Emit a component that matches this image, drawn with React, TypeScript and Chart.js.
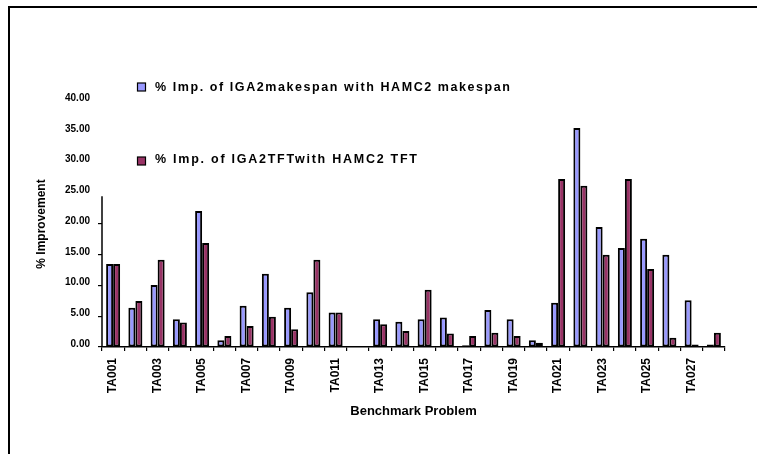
import React, { useEffect, useRef } from "react";
import { Chart, registerables } from "chart.js";

Chart.register(...registerables);

const categories = [
  "TA001", "TA002", "TA003", "TA004", "TA005", "TA006", "TA007", "TA008", "TA009", "TA010",
  "TA011", "TA012", "TA013", "TA014", "TA015", "TA016", "TA017", "TA018", "TA019", "TA020",
  "TA021", "TA022", "TA023", "TA024", "TA025", "TA026", "TA027", "TA028",
];

const makespanImp = [
  13.5, 6.4, 10.1, 4.5, 22.1, 1.1, 6.7, 11.9, 6.4, 8.9,
  5.6, 0, 4.5, 4.1, 4.5, 4.8, 0.3, 6.0, 4.5, 1.1,
  7.2, 35.6, 19.5, 16.1, 17.6, 15.0, 7.6, 0.4,
];

const tftImp = [
  13.5, 7.5, 14.2, 4.0, 16.9, 1.8, 3.4, 4.9, 2.9, 14.2,
  5.6, 0, 3.7, 2.6, 9.3, 2.2, 1.8, 2.3, 1.8, 0.7,
  27.3, 26.2, 15.0, 27.3, 12.7, 1.5, 0.4, 2.3,
];

const seriesLabels = [
  "% Imp. of IGA2makespan with HAMC2 makespan",
  "% Imp. of IGA2TFTwith HAMC2 TFT",
];
const seriesColors = ["#9999FF", "#993366"];

const Y_MIN = 0;
const Y_MAX = 40;
const Y_STEP = 5;
const Y_AXIS_LINE_TOP = 24.5;
const Y_TICK_MARK_MAX = 20;

const FONT = "'Liberation Sans', Arial, sans-serif";

const overlayPlugin = {
  id: "overlay",
  afterDraw(chart: any) {
    const { ctx, chartArea, scales } = chart;
    const y = scales.y;
    ctx.save();
    // partial y axis line
    ctx.strokeStyle = "#000";
    ctx.lineWidth = 1.5;
    ctx.beginPath();
    ctx.moveTo(chartArea.left, y.getPixelForValue(0));
    ctx.lineTo(chartArea.left, y.getPixelForValue(Y_AXIS_LINE_TOP));
    ctx.stroke();

    // legend
    const items = [
      { sq: 83, ty: 87.5, w: 355 },
      { sq: 157, ty: 160, w: 262 },
    ];
    items.forEach((it, i) => {
      ctx.fillStyle = seriesColors[i];
      ctx.fillRect(137.5, it.sq, 8, 8);
      ctx.strokeStyle = "#000";
      ctx.lineWidth = 1.2;
      ctx.strokeRect(137.5, it.sq, 8, 8);
      ctx.fillStyle = "#000";
      ctx.font = `bold 12.5px ${FONT}`;
      ctx.textBaseline = "middle";
      ctx.textAlign = "left";
      const text = seriesLabels[i];
      (ctx as any).letterSpacing = "0px";
      const w = ctx.measureText(text).width;
      const sp = Math.max(0, (it.w - w) / (text.length - 1));
      (ctx as any).letterSpacing = `${sp}px`;
      ctx.fillText(text, 155, it.ty);
      (ctx as any).letterSpacing = "0px";
    });
    ctx.restore();
  },
};

export default function App() {
  const canvasRef = useRef<HTMLCanvasElement | null>(null);

  useEffect(() => {
    if (!canvasRef.current) return;
    const chart = new Chart(canvasRef.current, {
      type: "bar",
      data: {
        labels: categories,
        datasets: [
          {
            label: seriesLabels[0],
            data: makespanImp,
            backgroundColor: seriesColors[0],
            borderColor: "#000",
            borderWidth: 2,
            borderSkipped: false,
            categoryPercentage: 0.63,
            barPercentage: 1.0,
          },
          {
            label: seriesLabels[1],
            data: tftImp,
            backgroundColor: seriesColors[1],
            borderColor: "#000",
            borderWidth: 2,
            borderSkipped: false,
            categoryPercentage: 0.63,
            barPercentage: 1.0,
          },
        ],
      },
      options: {
        animation: false,
        responsive: true,
        maintainAspectRatio: false,
        layout: { padding: { left: 0, right: 32, top: 101, bottom: 0 } },
        plugins: {
          legend: { display: false },
          tooltip: { enabled: false },
        },
        scales: {
          x: {
            offset: true,
            grid: {
              offset: true,
              display: true,
              drawOnChartArea: false,
              drawTicks: true,
              tickLength: 4,
              color: "#000",
              lineWidth: 1.2,
            },
            border: { display: true, color: "#000", width: 1.5 },
            ticks: {
              autoSkip: false,
              minRotation: 90,
              maxRotation: 90,
              padding: 7,
              color: "#000",
              font: { family: FONT, size: 12, weight: "bold" },
              callback: (_v: any, i: number) => (i % 2 === 0 ? categories[i] : ""),
            },
            title: {
              display: true,
              text: "Benchmark Problem",
              color: "#000",
              font: { family: FONT, size: 13, weight: "bold" },
              padding: { top: 0, bottom: 34.5 },
            },
            afterFit: (scale: any) => {
              scale.height = 107;
            },
          },
          y: {
            min: Y_MIN,
            max: Y_MAX,
            grid: {
              display: true,
              drawOnChartArea: false,
              drawTicks: true,
              tickLength: 4,
              color: (c: any) =>
                c.tick && c.tick.value <= Y_TICK_MARK_MAX ? "#000" : "rgba(0,0,0,0)",
              lineWidth: 1.2,
            },
            border: { display: false },
            ticks: {
              stepSize: Y_STEP,
              padding: 8,
              labelOffset: -3,
              color: "#000",
              font: { family: FONT, size: 10, weight: "bold" },
              callback: (v: any) => Number(v).toFixed(2),
            },
            title: {
              display: true,
              text: "% Improvement",
              color: "#000",
              font: { family: FONT, size: 12, weight: "bold" },
              padding: { top: 34, bottom: 0 },
            },
            afterFit: (scale: any) => {
              scale.width = 102;
            },
          },
        },
      },
      plugins: [overlayPlugin],
    } as any);
    return () => chart.destroy();
  }, []);

  return (
    <>
      <div
        style={{
          position: "fixed",
          left: 8,
          top: 6,
          right: -20,
          bottom: -20,
          borderTop: "2px solid #000",
          borderLeft: "2px solid #000",
          background: "#fff",
        }}
      />
      <div style={{ position: "fixed", left: 0, top: 0, width: 757, height: 454 }}>
        <canvas ref={canvasRef} />
      </div>
    </>
  );
}
